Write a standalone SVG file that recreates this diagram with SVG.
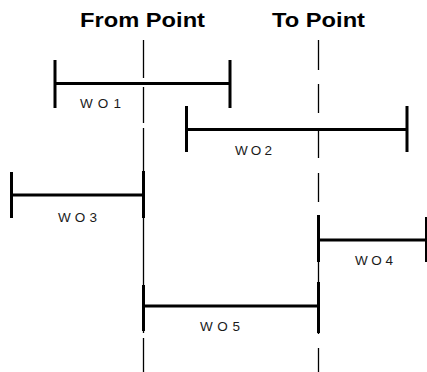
<svg xmlns="http://www.w3.org/2000/svg" width="427" height="372" viewBox="0 0 427 372">
  <style>
    .ref { stroke: #000; stroke-width: 1.3; fill: none; }
    .span { stroke: #000; stroke-width: 3; fill: none; stroke-linecap: butt; }
    .title { font-family: "Liberation Sans", Arial, sans-serif; font-weight: bold; font-size: 21px; fill: #000; }
    .lbl { font-family: "Liberation Sans", Arial, sans-serif; font-size: 13.5px; fill: #1a1a1a; }
  </style>
  <rect width="427" height="372" fill="#fff"/>

  <!-- headings -->
  <g id="headings">
    <text class="title" x="80" y="27" textLength="125" lengthAdjust="spacingAndGlyphs">From Point</text>
    <text class="title" x="272" y="27" textLength="93" lengthAdjust="spacingAndGlyphs">To Point</text>
  </g>

  <!-- vertical reference lines -->
  <g id="connectors">
    <path class="ref" d="M143.5 40V78 M143.5 87V123 M143.5 128V333 M143.5 338V372"/>
    <path class="ref" d="M318.5 40V70 M318.5 84V113 M318.5 128V158 M318.5 173V202 M318.5 215V246 M318.5 260V290 M318.5 304V334 M318.5 348V372"/>
  </g>

  <g id="wo1">
    <path class="span" d="M55 60V108 M55 83.5H230 M230 60V108"/>
    <text class="lbl" x="80" y="108" textLength="41" lengthAdjust="spacing">WO1</text>
  </g>

  <g id="wo2">
    <path class="span" d="M186.5 106V152 M186.5 129.5H407 M407 106V152"/>
    <text class="lbl" x="235" y="155" textLength="37" lengthAdjust="spacing">WO2</text>
  </g>

  <g id="wo3">
    <path class="span" d="M11.5 172V218 M11.5 195H143.5 M143.5 171V218"/>
    <text class="lbl" x="58" y="222" textLength="39" lengthAdjust="spacing">WO3</text>
  </g>

  <g id="wo4">
    <path class="span" d="M318.5 215V262 M318.5 240H427 M426.5 217V262"/>
    <text class="lbl" x="355" y="265" textLength="38" lengthAdjust="spacing">WO4</text>
  </g>

  <g id="wo5">
    <path class="span" d="M143.5 285V331 M143.5 306H318.5 M318.5 282V333"/>
    <text class="lbl" x="200" y="331" textLength="40" lengthAdjust="spacing">WO5</text>
  </g>
</svg>
